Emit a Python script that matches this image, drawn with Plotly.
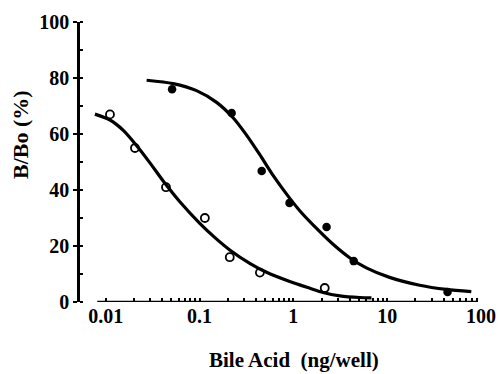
import plotly.graph_objects as go

# Open circles (measured points)
open_x = [0.0111, 0.0205, 0.0439, 0.114, 0.21, 0.44, 2.16]
open_y = [67, 55, 41, 30, 16, 10.5, 5]

# Filled circles (measured points)
filled_x = [0.051, 0.22, 0.46, 0.91, 2.26, 4.4, 44]
filled_y = [76, 67.5, 46.8, 35.4, 26.8, 14.6, 3.6]

# Fitted curves
open_curve_x = [0.00767, 0.0111, 0.0154, 0.0213, 0.0296, 0.041, 0.0617, 0.1, 0.146, 0.21,
                0.343, 0.518, 0.916, 1.5, 2.07, 3.12, 5.1, 6.8]
open_curve_y = [67.1, 65.0, 61.3, 55.9, 49.7, 43.2, 35.8, 28.2, 23.0, 18.6,
                13.8, 10.6, 7.3, 4.9, 3.4, 2.2, 1.6, 1.5]

filled_curve_x = [0.0273, 0.0523, 0.0929, 0.152, 0.228, 0.317, 0.439, 0.608, 0.916, 1.17,
                  1.8, 2.65, 3.98, 6.0, 10.6, 22.2, 42.7, 78.8]
filled_curve_y = [79.2, 78.0, 75.5, 71.3, 65.8, 59.6, 52.6, 45.2, 37.0, 32.6,
                  26.0, 20.6, 15.8, 12.2, 8.8, 6.0, 4.5, 3.7]

x_tickvals = [0.01, 0.1, 1, 10, 100]
x_ticktext = ["0.01", "0.1", "1", "10", "100"]
y_tickvals = [0, 20, 40, 60, 80, 100]
x_minor_tickvals = [m * d for d in [0.01, 0.1, 1, 10] for m in range(2, 10)]

FONT = "Liberation Serif"
W, H = 503, 374
ML, MR, MT, MB = 80, 22, 22, 72

fig = go.Figure()
for cx, cy in [(open_curve_x, open_curve_y), (filled_curve_x, filled_curve_y)]:
    fig.add_trace(go.Scatter(x=cx, y=cy, mode="lines",
                             line=dict(color="black", width=3.2, shape="spline", smoothing=0.8),
                             hoverinfo="skip"))
fig.add_trace(go.Scatter(x=open_x, y=open_y, mode="markers",
                         marker=dict(symbol="circle-open", size=8, color="black",
                                     line=dict(width=1.8, color="black"))))
fig.add_trace(go.Scatter(x=filled_x, y=filled_y, mode="markers",
                         marker=dict(symbol="circle", size=8.5, color="black")))

fig.update_layout(
    width=W, height=H,
    margin=dict(l=ML, r=MR, t=MT, b=MB, autoexpand=False),
    paper_bgcolor="white", plot_bgcolor="white",
    showlegend=False,
    font=dict(family=FONT, color="black", size=20),
)
fig.update_xaxes(
    type="log", range=[-2.274, 2.0], automargin=False,
    tickvals=x_tickvals, ticktext=x_ticktext,
    ticks="inside", ticklen=4, tickwidth=1.5, tickcolor="black",
    minor=dict(tickmode="array", tickvals=x_minor_tickvals,
               ticks="inside", ticklen=4, tickwidth=1.5, tickcolor="black", showgrid=False),
    showline=False, showgrid=False, zeroline=False,
    tickfont=dict(family=FONT, size=20, weight="bold"),
)
fig.update_yaxes(
    range=[0, 100], automargin=False,
    tickvals=y_tickvals,
    ticks="outside", ticklen=4, tickwidth=2, tickcolor="black",
    minor=dict(dtick=10, ticks="inside", ticklen=3, tickwidth=1.5, tickcolor="black", showgrid=False),
    showline=True, linecolor="black", linewidth=2.5,
    showgrid=False, zeroline=False,
    tickfont=dict(family=FONT, size=20, weight="bold"),
)
# x axis line (starts a little to the right of the y axis, as in the original)
fig.add_shape(type="line", xref="paper", yref="y", x0=0.043, x1=0.989, y0=0, y1=0,
              line=dict(color="black", width=2.5))

# axis titles, placed as in the original
fig.add_annotation(text="<b>Bile Acid  (ng/well)</b>", xref="paper", yref="paper",
                   x=(293.5 - ML) / (W - ML - MR), y=-(360 - (H - MB)) / (H - MT - MB),
                   xanchor="center", yanchor="middle", showarrow=False,
                   font=dict(family=FONT, size=21, color="black"))
fig.add_annotation(text="<b>B/Bo (%)</b>", xref="paper", yref="paper",
                   x=-(ML - 20) / (W - ML - MR), y=((H - MB) - 135) / (H - MT - MB),
                   xanchor="center", yanchor="middle", textangle=-90, showarrow=False,
                   font=dict(family=FONT, size=22, color="black"))

fig.write_html("out.html", config={"displayModeBar": False},
               post_script="document.body.style.margin='0';document.body.style.overflow='hidden';")
